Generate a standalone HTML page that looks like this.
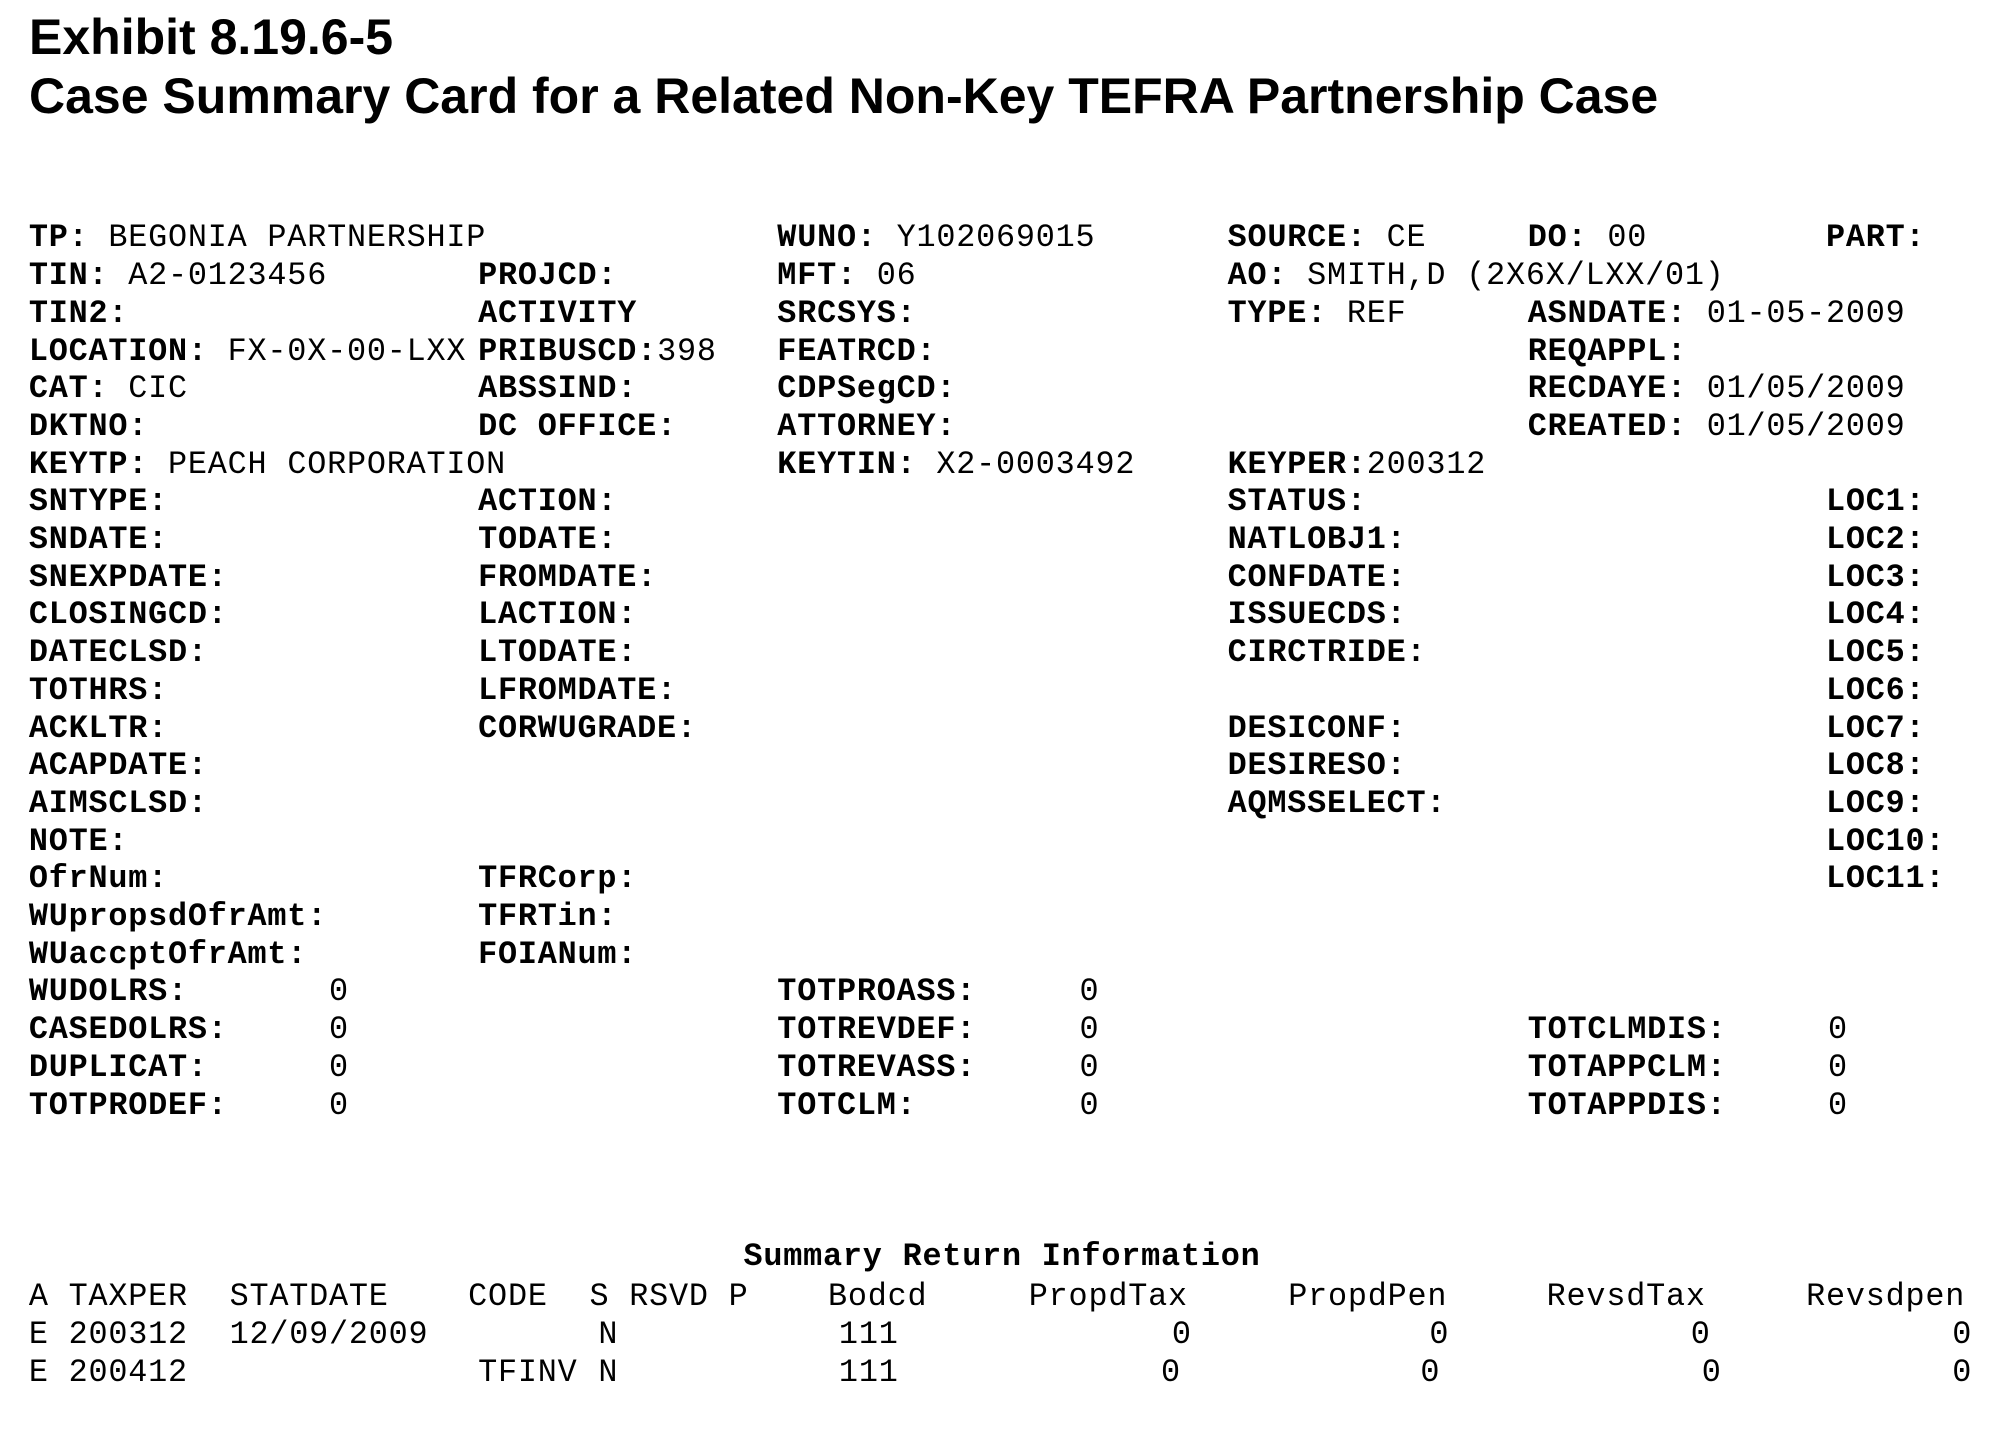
<!DOCTYPE html>
<html><head><meta charset="utf-8"><style>
html,body{margin:0;padding:0;background:#fff;}
body{width:2003px;height:1428px;position:relative;overflow:hidden;color:#000;}
.t{position:absolute;left:29px;font-family:"Liberation Sans",Arial,sans-serif;font-weight:bold;font-size:50px;line-height:60px;white-space:nowrap;}
.m{position:absolute;font-family:"Liberation Mono","Courier New",monospace;font-size:32px;letter-spacing:0.8px;line-height:38px;white-space:pre;}
.m b{font-weight:bold;}
.w{position:absolute;left:0;width:2003px;height:1428px;transform-origin:0 0;transform:scaleX(0.994);}
</style></head><body>
<div class="t" style="top:7px">Exhibit 8.19.6-5</div>
<div class="t" style="top:66px">Case Summary Card for a Related Non-Key TEFRA Partnership Case</div>

<div class="w" style="top:5px">
<div class="m" style="left:29px;top:214px"><b>TP:</b> BEGONIA PARTNERSHIP</div>
<div class="m" style="left:782px;top:214px"><b>WUNO:</b> Y102069015</div>
<div class="m" style="left:1235px;top:214px"><b>SOURCE:</b> CE</div>
<div class="m" style="left:1537px;top:214px"><b>DO:</b> 00</div>
<div class="m" style="left:1837px;top:214px"><b>PART:</b></div>
<div class="m" style="left:29px;top:252px"><b>TIN:</b> A2-0123456</div>
<div class="m" style="left:481px;top:252px"><b>PROJCD:</b></div>
<div class="m" style="left:782px;top:252px"><b>MFT:</b> 06</div>
<div class="m" style="left:1235px;top:252px"><b>AO:</b> SMITH,D (2X6X/LXX/01)</div>
<div class="m" style="left:29px;top:290px"><b>TIN2:</b></div>
<div class="m" style="left:481px;top:290px"><b>ACTIVITY</b></div>
<div class="m" style="left:782px;top:290px"><b>SRCSYS:</b></div>
<div class="m" style="left:1235px;top:290px"><b>TYPE:</b> REF</div>
<div class="m" style="left:1537px;top:290px"><b>ASNDATE:</b> 01-05-2009</div>
<div class="m" style="left:29px;top:328px"><b>LOCATION:</b> FX-0X-00-LXX</div>
<div class="m" style="left:481px;top:328px"><b>PRIBUSCD:</b>398</div>
<div class="m" style="left:782px;top:328px"><b>FEATRCD:</b></div>
<div class="m" style="left:1537px;top:328px"><b>REQAPPL:</b></div>
<div class="m" style="left:29px;top:365px"><b>CAT:</b> CIC</div>
<div class="m" style="left:481px;top:365px"><b>ABSSIND:</b></div>
<div class="m" style="left:782px;top:365px"><b>CDPSegCD:</b></div>
<div class="m" style="left:1537px;top:365px"><b>RECDAYE:</b> 01/05/2009</div>
<div class="m" style="left:29px;top:403px"><b>DKTNO:</b></div>
<div class="m" style="left:481px;top:403px"><b>DC OFFICE:</b></div>
<div class="m" style="left:782px;top:403px"><b>ATTORNEY:</b></div>
<div class="m" style="left:1537px;top:403px"><b>CREATED:</b> 01/05/2009</div>
<div class="m" style="left:29px;top:441px"><b>KEYTP:</b> PEACH CORPORATION</div>
<div class="m" style="left:782px;top:441px"><b>KEYTIN:</b> X2-0003492</div>
<div class="m" style="left:1235px;top:441px"><b>KEYPER:</b>200312</div>
<div class="m" style="left:29px;top:478px"><b>SNTYPE:</b></div>
<div class="m" style="left:481px;top:478px"><b>ACTION:</b></div>
<div class="m" style="left:1235px;top:478px"><b>STATUS:</b></div>
<div class="m" style="left:1837px;top:478px"><b>LOC1:</b></div>
<div class="m" style="left:29px;top:516px"><b>SNDATE:</b></div>
<div class="m" style="left:481px;top:516px"><b>TODATE:</b></div>
<div class="m" style="left:1235px;top:516px"><b>NATLOBJ1:</b></div>
<div class="m" style="left:1837px;top:516px"><b>LOC2:</b></div>
<div class="m" style="left:29px;top:554px"><b>SNEXPDATE:</b></div>
<div class="m" style="left:481px;top:554px"><b>FROMDATE:</b></div>
<div class="m" style="left:1235px;top:554px"><b>CONFDATE:</b></div>
<div class="m" style="left:1837px;top:554px"><b>LOC3:</b></div>
<div class="m" style="left:29px;top:591px"><b>CLOSINGCD:</b></div>
<div class="m" style="left:481px;top:591px"><b>LACTION:</b></div>
<div class="m" style="left:1235px;top:591px"><b>ISSUECDS:</b></div>
<div class="m" style="left:1837px;top:591px"><b>LOC4:</b></div>
<div class="m" style="left:29px;top:629px"><b>DATECLSD:</b></div>
<div class="m" style="left:481px;top:629px"><b>LTODATE:</b></div>
<div class="m" style="left:1235px;top:629px"><b>CIRCTRIDE:</b></div>
<div class="m" style="left:1837px;top:629px"><b>LOC5:</b></div>
<div class="m" style="left:29px;top:667px"><b>TOTHRS:</b></div>
<div class="m" style="left:481px;top:667px"><b>LFROMDATE:</b></div>
<div class="m" style="left:1837px;top:667px"><b>LOC6:</b></div>
<div class="m" style="left:29px;top:705px"><b>ACKLTR:</b></div>
<div class="m" style="left:481px;top:705px"><b>CORWUGRADE:</b></div>
<div class="m" style="left:1235px;top:705px"><b>DESICONF:</b></div>
<div class="m" style="left:1837px;top:705px"><b>LOC7:</b></div>
<div class="m" style="left:29px;top:742px"><b>ACAPDATE:</b></div>
<div class="m" style="left:1235px;top:742px"><b>DESIRESO:</b></div>
<div class="m" style="left:1837px;top:742px"><b>LOC8:</b></div>
<div class="m" style="left:29px;top:780px"><b>AIMSCLSD:</b></div>
<div class="m" style="left:1235px;top:780px"><b>AQMSSELECT:</b></div>
<div class="m" style="left:1837px;top:780px"><b>LOC9:</b></div>
<div class="m" style="left:29px;top:818px"><b>NOTE:</b></div>
<div class="m" style="left:1837px;top:818px"><b>LOC10:</b></div>
<div class="m" style="left:29px;top:855px"><b>OfrNum:</b></div>
<div class="m" style="left:481px;top:855px"><b>TFRCorp:</b></div>
<div class="m" style="left:1837px;top:855px"><b>LOC11:</b></div>
<div class="m" style="left:29px;top:893px"><b>WUpropsdOfrAmt:</b></div>
<div class="m" style="left:481px;top:893px"><b>TFRTin:</b></div>
<div class="m" style="left:29px;top:931px"><b>WUaccptOfrAmt:</b></div>
<div class="m" style="left:481px;top:931px"><b>FOIANum:</b></div>
<div class="m" style="left:29px;top:968px"><b>WUDOLRS:</b></div><div class="m" style="left:331px;top:968px">0</div>
<div class="m" style="left:782px;top:968px"><b>TOTPROASS:</b></div><div class="m" style="left:1086px;top:968px">0</div>
<div class="m" style="left:29px;top:1006px"><b>CASEDOLRS:</b></div><div class="m" style="left:331px;top:1006px">0</div>
<div class="m" style="left:782px;top:1006px"><b>TOTREVDEF:</b></div><div class="m" style="left:1086px;top:1006px">0</div>
<div class="m" style="left:1537px;top:1006px"><b>TOTCLMDIS:</b></div><div class="m" style="left:1839px;top:1006px">0</div>
<div class="m" style="left:29px;top:1044px"><b>DUPLICAT:</b></div><div class="m" style="left:331px;top:1044px">0</div>
<div class="m" style="left:782px;top:1044px"><b>TOTREVASS:</b></div><div class="m" style="left:1086px;top:1044px">0</div>
<div class="m" style="left:1537px;top:1044px"><b>TOTAPPCLM:</b></div><div class="m" style="left:1839px;top:1044px">0</div>
<div class="m" style="left:29px;top:1082px"><b>TOTPRODEF:</b></div><div class="m" style="left:331px;top:1082px">0</div>
<div class="m" style="left:782px;top:1082px"><b>TOTCLM:</b></div><div class="m" style="left:1086px;top:1082px">0</div>
<div class="m" style="left:1537px;top:1082px"><b>TOTAPPDIS:</b></div><div class="m" style="left:1839px;top:1082px">0</div>
</div>

<div class="w" style="top:0">
<div class="m" style="left:748px;top:1238px"><b>Summary Return Information</b></div>
<div class="m" style="left:29px;top:1278px">A TAXPER</div>
<div class="m" style="left:231px;top:1278px">STATDATE</div>
<div class="m" style="left:471px;top:1278px">CODE</div>
<div class="m" style="left:593px;top:1278px">S RSVD P</div>
<div class="m" style="left:833px;top:1278px">Bodcd</div>
<div class="m" style="left:1035px;top:1278px">PropdTax</div>
<div class="m" style="left:1296px;top:1278px">PropdPen</div>
<div class="m" style="left:1556px;top:1278px">RevsdTax</div>
<div class="m" style="left:1817px;top:1278px">Revsdpen</div>
<div class="m" style="left:29px;top:1316px">E 200312</div>
<div class="m" style="left:231px;top:1316px">12/09/2009</div>
<div class="m" style="left:602px;top:1316px">N</div>
<div class="m" style="left:844px;top:1316px">111</div>
<div class="m" style="left:1179px;top:1316px">0</div>
<div class="m" style="left:1438px;top:1316px">0</div>
<div class="m" style="left:1701px;top:1316px">0</div>
<div class="m" style="left:1964px;top:1316px">0</div>
<div class="m" style="left:29px;top:1354px">E 200412</div>
<div class="m" style="left:481px;top:1354px">TFINV</div>
<div class="m" style="left:602px;top:1354px">N</div>
<div class="m" style="left:844px;top:1354px">111</div>
<div class="m" style="left:1168px;top:1354px">0</div>
<div class="m" style="left:1429px;top:1354px">0</div>
<div class="m" style="left:1712px;top:1354px">0</div>
<div class="m" style="left:1964px;top:1354px">0</div>
</div>
</body></html>
